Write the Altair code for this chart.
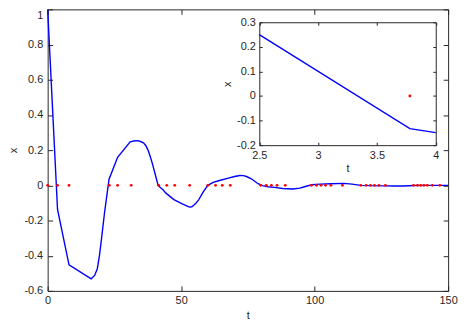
import altair as alt
import pandas as pd

# ---- data ----
line_t = [0, 3.7, 8.0, 16.3, 17.6, 18.6, 19.4, 20.3, 21.3, 22.3, 23.0, 26.2, 30.9, 32.3,
          33.6, 34.8, 35.9, 36.8, 37.6, 38.4, 39.2, 40.5, 41.4, 43.3, 44.2, 47.3, 50.4,
          53.1, 54.0, 54.7, 55.6, 56.6, 58.4, 60.0, 62.0, 64.0, 67.7, 70.0, 72.0, 73.3,
          74.5, 76.3, 78.8, 80.5, 82.5, 85.0, 88.0, 91.8, 94.5, 96.2, 98.9, 102.0, 106.0,
          111.0, 114.0, 117.2, 121.0, 126.5, 130.0, 133.3, 137.2, 142.0, 150.0]
line_x = [1.0, -0.137, -0.452, -0.531, -0.512, -0.474, -0.4, -0.287, -0.156, -0.043, 0.035,
          0.159, 0.247, 0.252, 0.254, 0.249, 0.241, 0.225, 0.2, 0.165, 0.125, 0.05, -0.002,
          -0.027, -0.043, -0.081, -0.105, -0.124, -0.122, -0.113, -0.1, -0.081, -0.034, 0.0,
          0.017, 0.026, 0.041, 0.05, 0.056, 0.055, 0.05, 0.037, 0.009, -0.002, -0.008,
          -0.012, -0.018, -0.021, -0.016, -0.008, 0.003, 0.007, 0.009, 0.011, 0.007, 0.0,
          -0.002, -0.003, -0.004, -0.004, -0.001, 0.0, 0.0]
event_t = [0, 3.7, 8.0, 23.1, 26.2, 31.3, 41.6, 44.6, 47.6, 53.2, 60.0, 62.9, 65.4, 68.4,
           79.8, 81.9, 83.8, 85.9, 89.0, 98.8, 100.7, 102.4, 104.1, 106.1, 110.4, 117.3,
           119.3, 120.9, 122.4, 124.1, 126.5, 137.0, 138.5, 139.7, 140.9, 142.2, 144.1, 146.9]
event_x = [0.0] * len(event_t)

inset_line_t = [2.5, 3.78, 4.0]
inset_line_x = [0.25, -0.133, -0.149]
inset_event_t = [3.78]
inset_event_x = [0.0]

main_xticks = [0, 50, 100, 150]
main_yticks = [-0.6, -0.4, -0.2, 0, 0.2, 0.4, 0.6, 0.8, 1]
inset_xticks = [2.5, 3, 3.5, 4]
inset_yticks = [-0.2, -0.1, 0, 0.1, 0.2, 0.3]

# ---- layout ----
W, H = 404, 284
IX = [213.5, 391.5]   # inset x pixel range inside plot
IY = [137, 13]        # inset y pixel range inside plot (bottom, top)

line_df = pd.DataFrame({"t": line_t, "x": line_x})
event_df = pd.DataFrame({"t": event_t, "x": event_x})
iline_df = pd.DataFrame({"t": inset_line_t, "x": inset_line_x})
ievent_df = pd.DataFrame({"t": inset_event_t, "x": inset_event_x})

BLUE = "#0000ff"
RED = "#ff0000"
INK = "#262626"
LBL = "'' + datum.value"


def xs():
    return alt.Scale(domain=[0, 150], nice=False, zero=False)


def ys():
    return alt.Scale(domain=[-0.6, 1], nice=False, zero=False)


def ixs():
    return alt.Scale(domain=[2.5, 4], range=IX, nice=False, zero=False)


def iys():
    return alt.Scale(domain=[-0.2, 0.3], range=IY, nice=False, zero=False)


def tick_axis(values, orient, offset, size, domain=False):
    return alt.Axis(values=values, orient=orient, offset=offset, labels=False, ticks=True,
                    tickSize=size, domain=domain, grid=False, title=None)


# main: labelled axes
main_line = alt.Chart(line_df).mark_line(color=BLUE, strokeWidth=1.4).encode(
    x=alt.X("t:Q", scale=xs(), axis=alt.Axis(
        values=main_xticks, orient="bottom", ticks=False, domain=False, grid=False,
        labelPadding=4, labelFlush=False, labelExpr=LBL, title="t",
        titleX=W / 2, titleY=25, titleBaseline="middle", titleAlign="center")),
    y=alt.Y("x:Q", scale=ys(), axis=alt.Axis(
        values=main_yticks, orient="left", ticks=False, domain=False, grid=False,
        labelPadding=5, labelFlush=False, labelExpr=LBL,
        labelBaseline={"condition": {"test": "datum.value == 1", "value": "top"},
                       "value": "middle"},
        title="x", titleX=-34, titleY=H / 2, titleBaseline="middle", titleAlign="center")),
)

# main: inward ticks on bottom and left
main_pts = alt.Chart(event_df).mark_circle(color=RED, size=8, opacity=1).encode(
    x=alt.X("t:Q", scale=xs(), axis=tick_axis(main_xticks, "top", -H, 5)),
    y=alt.Y("x:Q", scale=ys(), axis=tick_axis(main_yticks, "right", -W, 5)),
)

# main: inward ticks on top and right
main_ticks = alt.Chart(line_df).mark_point(opacity=0).encode(
    x=alt.X("t:Q", scale=xs(), axis=tick_axis(main_xticks, "bottom", -H, 5)),
    y=alt.Y("x:Q", scale=ys(), axis=tick_axis(main_yticks, "left", -W, 5)),
)

# inset: labelled axes with domain lines
inset_line = alt.Chart(iline_df).mark_line(color=BLUE, strokeWidth=1.4).encode(
    x=alt.X("t:Q", scale=ixs(), axis=alt.Axis(
        values=inset_xticks, orient="bottom", offset=IY[0] - H, ticks=False, domain=True,
        grid=False, labelPadding=4, labelFlush=False, labelExpr=LBL, title="t",
        titleX=(IX[0] + IX[1]) / 2, titleY=24, titleBaseline="middle", titleAlign="center")),
    y=alt.Y("x:Q", scale=iys(), axis=alt.Axis(
        values=inset_yticks, orient="left", offset=-IX[0], ticks=False, domain=True,
        grid=False, labelPadding=4, labelFlush=False, labelExpr=LBL, title="x",
        titleX=-32, titleY=(IY[0] + IY[1]) / 2, titleBaseline="middle", titleAlign="center")),
)

# inset: inward ticks + box on top and right
inset_pts = alt.Chart(ievent_df).mark_circle(color=RED, size=8, opacity=1).encode(
    x=alt.X("t:Q", scale=ixs(), axis=tick_axis(inset_xticks, "bottom", IY[1] - H, 3, True)),
    y=alt.Y("x:Q", scale=iys(), axis=tick_axis(inset_yticks, "left", -IX[1], 3, True)),
)

# inset: inward ticks on bottom and left
inset_ticks = alt.Chart(iline_df).mark_point(opacity=0).encode(
    x=alt.X("t:Q", scale=ixs(), axis=tick_axis(inset_xticks, "top", -IY[0], 3)),
    y=alt.Y("x:Q", scale=iys(), axis=tick_axis(inset_yticks, "right", IX[0] - W, 3)),
)

chart = alt.layer(main_line, main_pts, main_ticks, inset_line, inset_pts, inset_ticks).resolve_scale(
    x="independent", y="independent"
).resolve_axis(
    x="independent", y="independent"
).properties(
    width=W, height=H,
    autosize=alt.AutoSizeParams(type="none"),
    padding={"left": 40, "top": 0, "right": 15, "bottom": 30},
).configure_view(
    stroke=INK, strokeWidth=1
).configure_axis(
    labelFont="Liberation Sans", labelFontSize=11, labelColor=INK,
    titleFont="Liberation Sans", titleFontSize=11, titleColor=INK, titleFontWeight="normal",
    tickColor=INK, tickWidth=1, domainColor=INK, domainWidth=1,
)

chart.save("out.html", embed_options={"renderer": "svg", "actions": False})
